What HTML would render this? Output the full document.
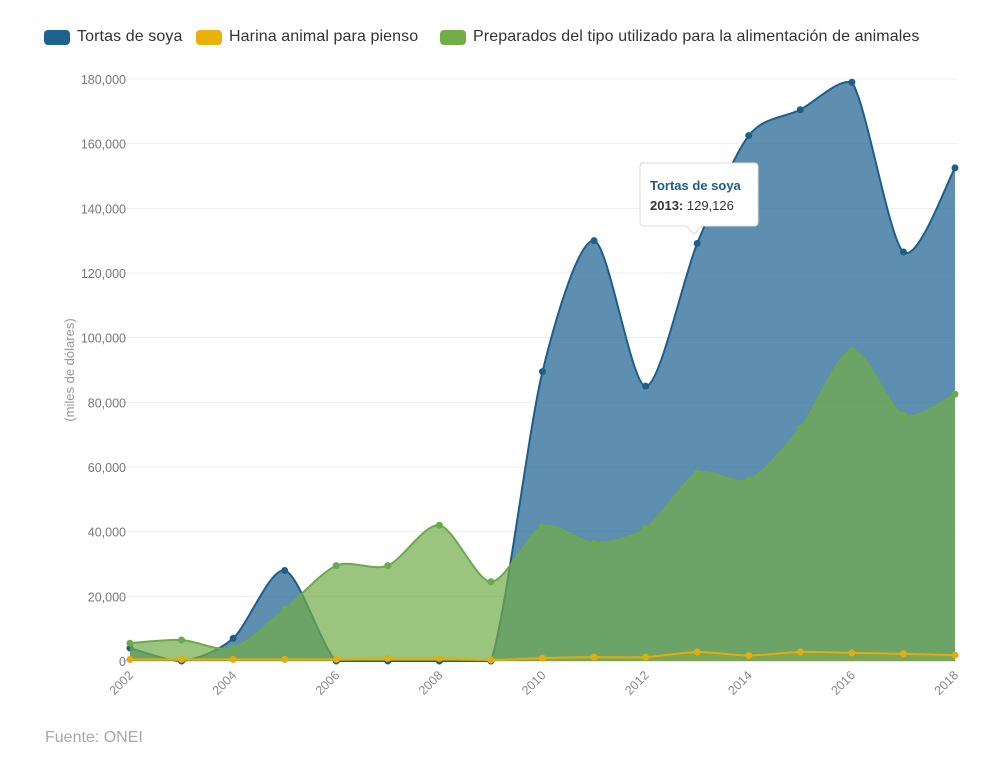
<!DOCTYPE html>
<html><head><meta charset="utf-8">
<style>
body{margin:0;background:#fff;font-family:"Liberation Sans",sans-serif;}
#wrap{position:relative;width:997px;height:781px;overflow:hidden;}
.leg{position:absolute;top:28px;font-size:16px;letter-spacing:0.1px;color:#333;display:flex;align-items:center;}
.sw{display:inline-block;width:26px;height:15px;border-radius:4px;margin-right:7px;}
</style></head><body>
<div id="wrap">
<div class="leg" style="left:44px"><span class="sw" style="background:#1d6390"></span>Tortas de soya</div>
<div class="leg" style="left:196px"><span class="sw" style="background:#e8b10c"></span>Harina animal para pienso</div>
<div class="leg" style="left:440px"><span class="sw" style="background:#71ae48"></span>Preparados del tipo utilizado para la alimentación de animales</div>
<svg id="svg" width="997" height="781" style="position:absolute;left:0;top:0;z-index:0"></svg>
<div style="position:absolute;left:45px;top:729px;font-size:16px;color:#a8a8a8">Fuente: ONEI</div>
</div>
<script>
const years=[2002,2003,2004,2005,2006,2007,2008,2009,2010,2011,2012,2013,2014,2015,2016,2017,2018];
const soya=[4000,0,7000,28000,0,0,0,0,89500,130000,85000,129126,162500,170500,179000,126500,152500];
const harina=[500,500,500,500,500,800,800,300,900,1200,1200,2800,1700,2800,2500,2200,1800];
const preparados=[5500,6500,4000,16000,29500,29500,42000,24500,41500,36500,41000,58000,56000,72000,96000,76000,82500];
const yTicks=[0,20000,40000,60000,80000,100000,120000,140000,160000,180000];
const xTicks=[2002,2004,2006,2008,2010,2012,2014,2016,2018];
const NS="http://www.w3.org/2000/svg";
const svg=document.getElementById('svg');
const X=y=>130+(y-2002)*(955-130)/16;
const Y=v=>661-v*(661-79)/180000;
function el(t,a,p){const e=document.createElementNS(NS,t);for(const k in a)e.setAttribute(k,a[k]);(p||svg).appendChild(e);return e;}
yTicks.forEach(t=>{
 const g=el('line',{x1:122,x2:957,y1:Y(t),y2:Y(t),stroke:t==0?'#ccc':'#eee','stroke-width':1});
 
 
 const tx=el('text',{x:126,y:Y(t)+5,'text-anchor':'end','font-size':12.5,fill:'#777'});tx.textContent=t.toLocaleString('en-US');
 
 
});
xTicks.forEach(t=>{
 const tx=el('text',{x:X(t)+4,y:676,'text-anchor':'end','font-size':12.5,fill:'#888',transform:`rotate(-45 ${X(t)+4} 676)`});tx.textContent=t;
 
 
});
const yl=el('text',{x:74,y:370,'text-anchor':'middle','font-size':13,fill:'#999',transform:'rotate(-90 74 370)'});yl.textContent='(miles de dólares)';


function path(vals){
 const p=vals.map((v,i)=>[X(years[i]),Y(v)]);
 let d=`M${p[0][0]},${p[0][1]}`;
 for(let i=0;i<p.length-1;i++){
  const p0=p[Math.max(0,i-1)],p1=p[i],p2=p[i+1],p3=p[Math.min(p.length-1,i+2)];
  const t=0.14;
  let c1y=p1[1]+(p2[1]-p0[1])*t,c2y=p2[1]-(p3[1]-p1[1])*t;
  c1y=Math.max(Math.min(c1y,661),79);c2y=Math.max(Math.min(c2y,661),79);
  d+=` C${p1[0]+(p2[0]-p0[0])*t},${c1y} ${p2[0]-(p3[0]-p1[0])*t},${c2y} ${p2[0]},${p2[1]}`;
 }
 return d;
}
function series(vals,fill,op,stroke,name){
 const d=path(vals);
 const a=el('path',{d:d+` L${X(2018)},661 L${X(2002)},661 Z`,fill:fill,'fill-opacity':op});
 
 
 const l=el('path',{d:d,fill:'none',stroke:stroke,'stroke-width':2});
 
 
 vals.forEach((v,i)=>{
  const c=el('circle',{cx:X(years[i]),cy:Y(v),r:3.5,fill:stroke});
  
  
 });
}
series(soya,'#1a5f8e',0.7,'#1d5f8a','soya');
series(preparados,'#70ad47',0.7,'#6aaa4c','preparados');
series(harina,'#e8b10c',0.15,'#e2ad0e','harina');
const g=el('g',{});


el('path',{d:'M640,163 H754 Q758,163 758,167 V222 Q758,226 754,226 H702 L694,234 L686,226 H644 Q640,226 640,222 V167 Q640,163 644,163 Z',fill:'#fff',stroke:'#ddd','stroke-width':1},g);
const t1=el('text',{x:650,y:190,'font-size':13,'font-weight':'bold',fill:'#1d5f8a'},g);t1.textContent='Tortas de soya';
const t2=el('text',{x:650,y:210,'font-size':13,fill:'#333'},g);
t2.innerHTML='<tspan font-weight="bold">2013:</tspan> 129,126';
</script>
</body></html>
